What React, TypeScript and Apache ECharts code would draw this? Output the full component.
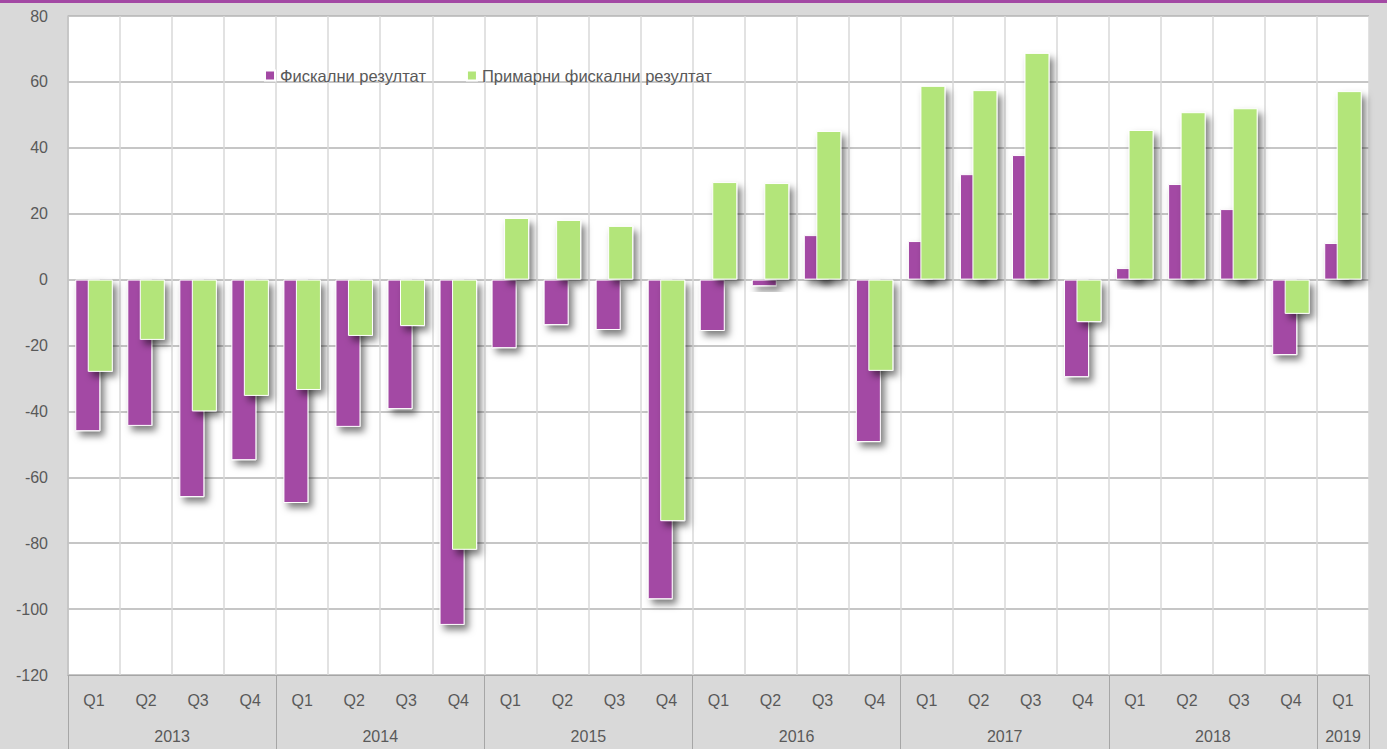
import React, { useEffect, useRef } from "react";
import * as echarts from "echarts";

const quarters = [
  "Q1","Q2","Q3","Q4",
  "Q1","Q2","Q3","Q4",
  "Q1","Q2","Q3","Q4",
  "Q1","Q2","Q3","Q4",
  "Q1","Q2","Q3","Q4",
  "Q1","Q2","Q3","Q4",
  "Q1",
];
// year label and the number of quarters it spans
const years = ["2013", "2014", "2015", "2016", "2017", "2018", "2019"];
const yearSpans = [4, 4, 4, 4, 4, 4, 1];

const fiscalName = "Фискални резултат";
const primaryName = "Примарни фискални резултат";

const fiscal = [
  -46, -44.4, -66, -54.8,
  -67.8, -44.7, -39.3, -104.8,
  -20.8, -13.8, -15.3, -97,
  -15.6, -2, 13.5, -49.3,
  11.7, 32, 37.8, -29.6,
  3.5, 29, 21.4, -22.9,
  11.1,
];
const primary = [
  -28, -18.3, -40, -35.3,
  -33.5, -17.1, -14.1, -82,
  18.7, 18.1, 16.3, -73.3,
  29.6, 29.3, 45.1, -27.7,
  58.8, 57.5, 68.8, -12.9,
  45.4, 50.8, 52, -10.4,
  57.2,
];

// year axis: half-quarter points (boundaryGap false), year text at span centre
function buildYearAxis(): string[] {
  const total = yearSpans.reduce((a, b) => a + b, 0) * 2 + 1;
  const arr: string[] = new Array(total).fill("");
  let start = 0;
  years.forEach((y, i) => {
    const centre = start * 2 + yearSpans[i];
    arr[centre] = y;
    start += yearSpans[i];
  });
  return arr;
}

// year boundary indexes for ticks
function yearBoundaries(): Set<number> {
  const s = new Set<number>();
  let start = 0;
  yearSpans.forEach((n) => {
    s.add(start);
    start += n;
  });
  return s;
}

export default function App() {
  const ref = useRef<HTMLDivElement>(null);
  useEffect(() => {
    document.body.style.margin = "0";
    if (!ref.current) return;
    const chart = echarts.init(ref.current, undefined, { renderer: "svg" });
    const bounds = yearBoundaries();
    const font = "'Liberation Sans', Arial, sans-serif";
    const barStyle = (color: string) => ({
      color,
      borderColor: "#ffffff",
      borderWidth: 1,
      shadowBlur: 7,
      shadowOffsetX: 4,
      shadowOffsetY: 5,
      shadowColor: "rgba(0,0,0,0.5)",
    });
    chart.setOption({
      animation: false,
      backgroundColor: "#d9d9d9",
      textStyle: { fontFamily: font },
      graphic: [
        {
          type: "rect",
          shape: { x: 0, y: 0, width: 1387, height: 3 },
          style: { fill: "#a349a4" },
        },
      ],
      legend: {
        left: 259,
        top: 62,
        itemWidth: 10,
        itemHeight: 10,
        itemGap: 40,
        icon: "rect",
        textStyle: { fontSize: 16.5, color: "#595959", fontFamily: font },
        data: [fiscalName, primaryName],
      },
      grid: {
        left: 68,
        right: 18,
        top: 16,
        bottom: 74,
        show: true,
        backgroundColor: "#ffffff",
        borderWidth: 0,
      },
      xAxis: [
        {
          type: "category",
          data: quarters,
          axisLine: { show: true, onZero: false, lineStyle: { color: "#a6a6a6", width: 1 } },
          axisTick: {
            show: true,
            interval: (i: number) => bounds.has(i),
            length: 74,
            lineStyle: { color: "#a6a6a6", width: 1 },
          },
          axisLabel: {
            interval: 0,
            margin: 17,
            fontSize: 16,
            color: "#595959",
            fontFamily: font,
          },
          splitLine: {
            show: true,
            interval: 0,
            lineStyle: { color: "#d9d9d9", width: 1.5 },
          },
        },
        {
          type: "category",
          boundaryGap: false,
          position: "bottom",
          data: buildYearAxis(),
          axisLine: { show: false, onZero: false },
          axisTick: { show: false },
          splitLine: { show: false },
          axisLabel: {
            interval: 0,
            margin: 53,
            fontSize: 16,
            color: "#595959",
            fontFamily: font,
          },
        },
      ],
      yAxis: {
        type: "value",
        min: -120,
        max: 80,
        interval: 20,
        axisLine: { show: true, lineStyle: { color: "#bfbfbf", width: 1.5 } },
        axisTick: { show: false },
        axisLabel: { fontSize: 16, color: "#595959", margin: 20, fontFamily: font },
        splitLine: { show: true, lineStyle: { color: "#b3b3b3", width: 1.5 } },
      },
      series: [
        {
          name: fiscalName,
          type: "bar",
          xAxisIndex: 0,
          data: fiscal,
          barWidth: 25,
          barGap: "-50%",
          itemStyle: barStyle("#a349a4"),
        },
        {
          name: primaryName,
          type: "bar",
          xAxisIndex: 0,
          data: primary,
          barWidth: 25,
          barGap: "-50%",
          itemStyle: barStyle("#b3e57a"),
        },
      ],
    });
    return () => chart.dispose();
  }, []);
  return <div ref={ref} style={{ width: 1387, height: 749 }} />;
}
